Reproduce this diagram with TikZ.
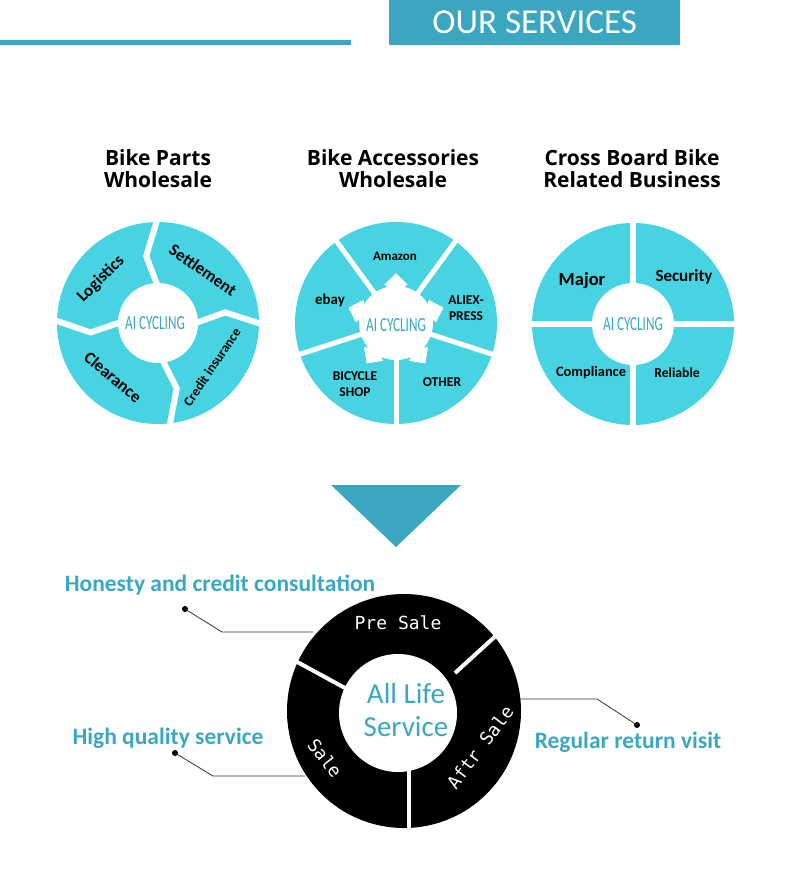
\documentclass[tikz,border=0pt]{standalone}
\usepackage{fontspec}
\setmainfont{Carlito}
\newfontfamily\osans{Open Sans}
\newfontfamily\monof{DejaVu Sans Mono}
\usetikzlibrary{calc}
\definecolor{teal1}{HTML}{3AA6BF}
\definecolor{seg}{HTML}{47D3E1}
\definecolor{lbltxt}{HTML}{3BA8C2}
\definecolor{coretxt}{HTML}{35A9BE}
\begin{document}
\begin{tikzpicture}[x=1pt,y=-1pt,
  head/.style={align=center, inner sep=0pt, font=\osans\bfseries\fontsize{21}{22}\selectfont},
  gapline/.style={draw=white, line width=6pt, line join=miter},
  seglbl/.style={inner sep=0pt, font=\bfseries\fontsize{17}{17}\selectfont},
  core/.style={inner sep=0pt, text=coretxt, font=\fontsize{20}{20}\selectfont},
  sidelbl/.style={inner sep=0pt, text=lbltxt, font=\bfseries\fontsize{23.5}{24}\selectfont},
  ringlbl/.style={inner sep=0pt, text=white, font=\monof\fontsize{18}{18}\selectfont},
  leader/.style={draw=black!80, line width=0.8pt},
  dot/.style={circle, fill=black, inner sep=0pt, minimum size=6pt}]
\useasboundingbox (0,0) rectangle (790,894);
\fill[white] (0,0) rectangle (790,894);
% header
\fill[teal1] (0,40) rectangle (351,45);
\node[fill=teal1, minimum width=291pt, minimum height=45pt, inner sep=0pt, anchor=north west,
  text=white, font=\fontsize{35}{35}\selectfont] (title) at (389,0) {OUR SERVICES};
% column heads
\node[head] (h1) at (158,169) {Bike Parts\\Wholesale};
\node[head] (h2) at (393,169) {Bike Accessories\\Wholesale};
\node[head] (h3) at (632,169) {Cross Board Bike\\Related Business};
% circle 1
\coordinate (c1) at (158,323);
\fill[seg] (c1) circle (101);
\begin{scope}[shift={(c1)}]
  \foreach \g in {-90,1,84,182}
    \draw[gapline] (\g:36) -- ({\g-10}:68) -- (\g:106);
\end{scope}
\fill[white] (c1) circle (40);
\node[core] (ai1) at (155,323) {\scalebox{0.66}[1]{AI CYCLING}};
\node[seglbl, rotate=45] (l1) at (101,279) {Logistics};
\node[seglbl, rotate=-35] (l2) at (203,270) {Settlement};
\node[seglbl, rotate=-40] (l3) at (113,377) {Clearance};
\node[seglbl, rotate=56, font=\bfseries\fontsize{13.5}{13.5}\selectfont] (l4) at (212,367) {Credit insurance};
% circle 2
\coordinate (c2) at (396,323);
\fill[seg] (c2) circle (101);
\begin{scope}[shift={(c2)}]
  \foreach \g in {-54,18,90,162,234}
    \draw[gapline, line width=5pt] (\g:30) -- (\g:106);
  \fill[white] (0,0) circle (37);
  \foreach \a in {-90,-18,54,126,198}
    \fill[white] (\a:50) -- ({\a+17}:40) -- ({\a+9}:35) -- ({\a-9}:35) -- ({\a-17}:40) -- cycle;
\end{scope}
\node[core] (ai2) at (396,325) {\scalebox{0.66}[1]{AI CYCLING}};
\node[seglbl, font=\bfseries\fontsize{13}{13}\selectfont] (m1) at (395,256) {Amazon};
\node[seglbl, font=\bfseries\fontsize{15}{15}\selectfont] (m2) at (330,300) {ebay};
\node[seglbl, align=center, font=\bfseries\fontsize{13.5}{16}\selectfont] (m3) at (466,308) {ALIEX-\\PRESS};
\node[seglbl, align=center, font=\bfseries\fontsize{13.5}{16}\selectfont] (m4) at (355,384) {BICYCLE\\SHOP};
\node[seglbl, font=\bfseries\fontsize{13.5}{13.5}\selectfont] (m5) at (442,382) {OTHER};
% circle 3
\coordinate (c3) at (633,324);
\fill[seg] (c3) circle (101);
\begin{scope}[shift={(c3)}]
  \draw[gapline, line width=6pt] (0,-106) -- (0,106);
  \draw[gapline, line width=6pt] (-106,0) -- (106,0);
\end{scope}
\fill[white] (c3) circle (41);
\node[core] (ai3) at (633,324) {\scalebox{0.66}[1]{AI CYCLING}};
\node[seglbl, font=\bfseries\fontsize{18.5}{18.5}\selectfont] (r1) at (582,281) {Major};
\node[seglbl, font=\bfseries\fontsize{17}{17}\selectfont] (r2) at (684,277) {Security};
\node[seglbl, font=\bfseries\fontsize{14.4}{14.4}\selectfont] (r3) at (591,373) {Compliance};
\node[seglbl, font=\bfseries\fontsize{13.7}{13.7}\selectfont] (r4) at (677,373) {Reliable};
% down triangle
\fill[teal1] (331,485) -- (461,485) -- (396,547) -- cycle;
% bottom ring
\coordinate (c4) at (404,711);
\fill[black] (c4) circle (117);
\fill[white] (398,713) circle (59);
\draw[white, line width=4pt] (290,658) -- (345,688);
\draw[white, line width=4pt] (500,632) -- (455,673);
\draw[white, line width=4pt] (409,770) -- (409,832);
\node[ringlbl] (pre) at (398,623) {Pre Sale};
\node[ringlbl, rotate=-52] (sale) at (325,758) {Sale};
\node[ringlbl, rotate=53] (aftr) at (480,747) {Aftr Sale};
\node[inner sep=0pt, align=center, text=lbltxt, font=\fontsize{29}{33}\selectfont] (all) at (406,710) {All Life\\Service};
% side labels
\node[sidelbl] (s1) at (220,585) {Honesty and credit consultation};
\node[sidelbl] (s2) at (168,738) {High quality service};
\node[sidelbl] (s3) at (628,742) {Regular return visit};
\node[dot] (d1) at (185,609) {};
\node[dot] (d2) at (175,753) {};
\node[dot] (d3) at (637,725) {};
\coordinate (e1) at (313,632);
\coordinate (e2) at (305,776);
\coordinate (e3) at (520,699);
\draw[leader] (d1.center) -- (222,632) -- (e1);
\draw[leader] (d2.center) -- (213,776) -- (e2);
\draw[leader] (e3) -- (597,699) -- (d3.center);
\end{tikzpicture}
\end{document}
